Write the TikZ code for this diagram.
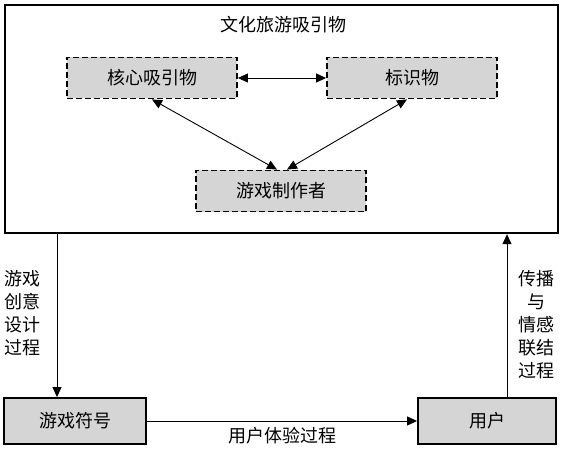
\documentclass[tikz,border=0pt]{standalone}
\usepackage{fontspec}
\setmainfont{Noto Sans CJK SC}
\usetikzlibrary{arrows.meta}
\begin{document}
\begin{tikzpicture}[x=1pt,y=-1pt,
        dashbox/.style={draw, line width=1.8pt, dash pattern=on 6pt off 3pt, fill=gray!33, minimum width=170pt, minimum height=41pt, font=\fontsize{18}{20}\selectfont},
        solidbox/.style={draw, line width=1.8pt, fill=gray!33, minimum height=46pt, font=\fontsize{18}{20}\selectfont},
        arr/.style={-{Triangle[length=10pt,width=9pt]}, line width=0.9pt},
        twoarr/.style={{Triangle[length=10pt,width=9pt]}-{Triangle[length=10pt,width=9pt]}, line width=0.9pt},
        vlabel/.style={align=center, font=\fontsize{18}{23}\selectfont}]
        \useasboundingbox (0,0) rectangle (566,452);
        \node [draw, line width=2.2pt, minimum width=553pt, minimum height=228pt, anchor=north west] (outer) at (4,4) {};
        \node [font=\fontsize{18}{20}\selectfont] (title) at (283,25) {文化旅游吸引物};
        \node [dashbox] (core) at (152,78) {核心吸引物};
        \node [dashbox] (mark) at (412,78) {标识物};
        \node [dashbox] (maker) at (281,191) {游戏制作者};
        \node [solidbox, minimum width=142pt] (symbol) at (75,421) {游戏符号};
        \node [solidbox, minimum width=138pt] (user) at (487,421) {用户};
        \draw [twoarr] (core) -- (mark);
        \draw [twoarr] (core.south) -- ([xshift=-4pt]maker.north);
        \draw [twoarr] ([xshift=-5pt]mark.south) -- ([xshift=6pt]maker.north);
        \draw [arr] ([xshift=-18pt]symbol.north |- outer.south) -- ([xshift=-18pt]symbol.north);
        \draw [arr] (symbol) -- (user) node [midway, below=2pt, font=\fontsize{18}{20}\selectfont] (exp) {用户体验过程};
        \draw [arr] ([xshift=20pt]user.north) -- ([xshift=20pt]user.north |- outer.south);
        \node [vlabel] (design) at (23,313) {游戏\\创意\\设计\\过程};
        \node [vlabel] (spread) at (536,325) {传播\\与\\情感\\联结\\过程};
    \end{tikzpicture}
\end{document}
